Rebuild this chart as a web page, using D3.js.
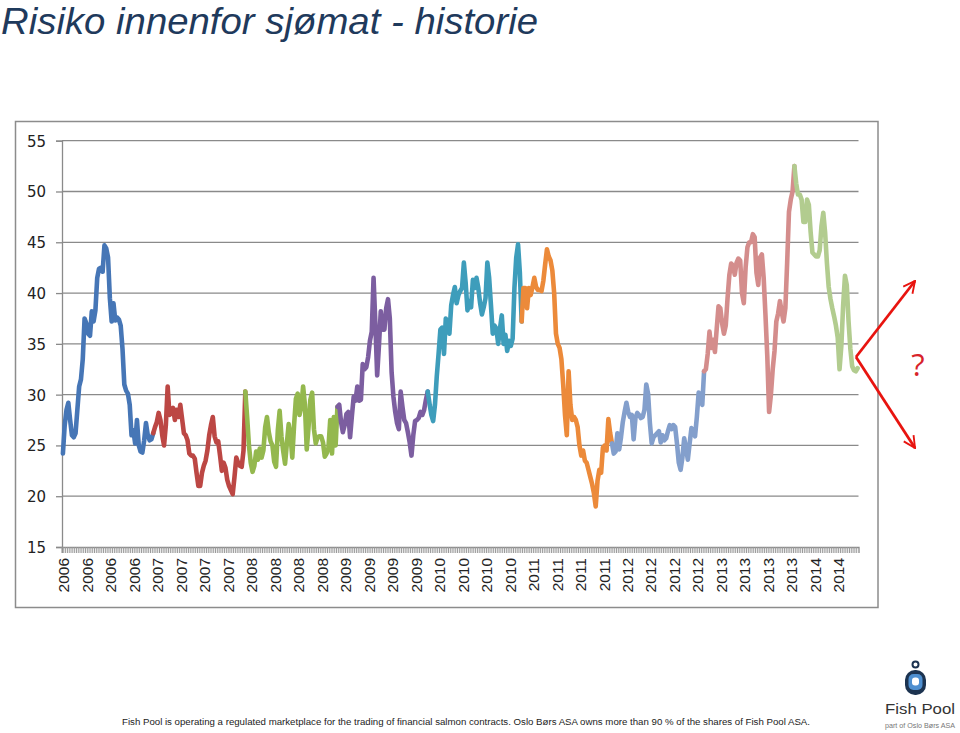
<!DOCTYPE html>
<html><head><meta charset="utf-8">
<script src="https://cdn.jsdelivr.net/npm/d3@7"></script>
<style>html,body{margin:0;padding:0;background:#fff;}svg{display:block;}</style>
</head><body>
<svg id="c" width="960" height="733"></svg>
<script>
// ---- data (weekly salmon price, NOK/kg) ----
const years = ["2006","2007","2008","2009","2010","2011","2012","2013","2014"];
const tickLabels = ["2006","2006","2006","2006","2007","2007","2007","2007","2008","2008","2008","2008",
  "2009","2009","2009","2009","2010","2010","2010","2010","2011","2011","2011","2011",
  "2012","2012","2012","2012","2013","2013","2013","2013","2014","2014"];
const yTicks = [15,20,25,30,35,40,45,50,55];
const v2006 = [24.2,27.0,28.5,29.2,27.5,26.0,25.8,26.2,28.5,30.8,31.5,33.5,37.5,37.0,36.0,35.8,38.2,37.2,38.3,41.5,
  42.4,42.5,42.1,44.7,44.4,43.5,39.5,37.2,39.0,37.3,37.6,37.4,36.8,34.5,31.0,30.4,30.1,29.0,26.0,26.5,
  25.2,27.5,25.0,24.4,24.3,25.5,27.2,26.0,25.5,25.6];
const v2007 = [26.2,26.8,27.3,28.2,27.5,26.0,25.0,27.0,30.8,28.0,28.2,28.7,27.5,28.5,27.8,29.0,27.6,26.2,26.0,25.5,
  24.2,24.0,24.0,23.7,22.3,21.0,21.0,22.3,23.0,23.5,24.5,26.0,27.0,27.8,25.9,25.3,25.4,24.0,22.5,23.3,
  22.8,21.6,21.0,20.6,20.2,21.9,23.8,23.3,23.0,22.9,24.5];
const v2008 = [30.3,27.8,25.0,23.3,22.4,23.0,24.4,23.6,24.7,23.8,24.5,26.8,27.8,26.3,25.4,25.0,23.4,22.9,26.5,28.4,
  25.9,24.4,23.2,25.2,27.1,26.0,23.8,27.0,29.6,30.1,28.0,28.8,30.8,29.0,24.6,26.8,29.5,30.2,26.6,25.2,
  25.8,25.9,25.9,25.3,23.9,24.2,24.7,27.5,24.2,27.8,25.0];
const v2009 = [28.8,29.0,27.3,26.3,27.0,28.1,28.3,25.8,27.9,29.8,29.4,30.8,29.4,29.5,33.0,32.5,32.7,33.7,35.3,36.2,
  41.5,37.0,31.9,34.9,38.2,36.4,36.4,38.5,39.4,37.5,32.2,29.8,28.3,27.2,26.6,30.3,28.8,27.5,27.2,26.3,
  25.3,24.0,26.0,27.4,27.5,27.7,28.3,28.0,28.5,29.5];
const v2010 = [30.3,29.1,28.0,27.4,29.0,31.8,34.0,36.4,36.6,34.0,37.5,37.0,36.0,38.8,39.8,40.6,39.0,39.8,40.2,40.5,
  43.0,41.0,38.3,39.2,38.6,41.3,40.5,41.5,40.5,39.0,37.9,38.6,39.5,43.0,41.5,38.8,36.0,36.8,36.5,35.0,
  36.5,37.8,35.0,35.9,34.3,35.3,34.8,35.5,40.5,43.5,44.8,42.0];
const v2011 = [37.2,40.5,40.5,38.5,40.5,39.8,40.6,41.5,40.6,40.3,40.3,40.2,41.2,42.8,44.3,43.6,43.2,42.2,40.0,36.0,
  35.0,34.6,33.5,31.0,28.0,26.0,32.3,29.0,27.5,27.8,27.5,26.8,25.0,24.0,24.5,23.5,23.3,22.6,21.9,21.2,
  20.3,19.0,21.5,22.6,22.3,24.8,25.0,24.5,27.6,26.2];
const v2012 = [25.2,24.2,24.4,26.2,24.6,25.8,27.3,28.3,29.2,28.3,27.8,28.0,25.6,27.7,28.2,28.0,27.7,27.8,28.5,31.0,
  30.1,27.2,25.2,25.8,26.0,26.2,26.4,25.3,26.0,25.5,25.7,26.4,27.0,26.6,27.0,26.8,25.2,23.3,22.6,23.8,
  25.7,24.7,23.6,25.2,26.7,26.5,25.9,27.8,30.2,29.5,29.0];
const v2013 = [32.3,32.5,34.0,36.2,34.6,35.4,34.2,36.5,38.7,38.5,37.0,36.0,36.8,39.5,41.8,42.9,42.7,41.8,43.0,43.4,
  43.2,40.0,39.0,42.5,44.5,45.0,45.0,45.8,45.5,42.0,40.8,43.5,43.8,41.5,37.8,33.8,28.3,30.0,32.5,34.3,
  37.2,38.0,39.2,38.1,37.2,38.5,43.0,48.0,49.2,50.0];
const v2014 = [52.5,50.8,49.7,49.7,49.2,47.0,47.0,49.2,48.7,46.0,44.0,43.8,43.6,43.6,44.2,46.6,47.9,46.0,43.0,40.6,
  39.4,38.5,37.7,36.8,35.6,32.5,34.8,38.8,41.7,40.8,37.2,34.5,32.8,32.4,32.3,32.6];
const seriesValues = [v2006,v2007,v2008,v2009,v2010,v2011,v2012,v2013,v2014];
const colors = ["#4676B6","#BC4744","#94B84E","#7C5EA0","#3E9DBB","#EC8A3A","#839FCC","#D48D8C","#B2CC8F"];

const titleText = "Risiko innenfor sjømat - historie";
const footerText = "Fish Pool is operating a regulated marketplace for the trading of financial salmon contracts. Oslo Børs ASA owns more than 90 % of the shares of Fish Pool ASA.";

// ---- drawing ----
const svg = d3.select("#c");
const N = d3.sum(seriesValues, s => s.length);
const weeks = d3.range(N);
const plot = {l: 62, r: 858.5, t: 140.7, b: 547};
const x = d3.scaleBand().domain(weeks).range([plot.l, plot.r]).paddingInner(0).paddingOuter(0);
const cx = i => x(i) + x.bandwidth() / 2;
const y = d3.scaleLinear().domain([15, 55]).range([plot.b, plot.t]);

// title
svg.append("text").attr("x", 1).attr("y", 34)
  .attr("font-family", "'Liberation Sans', Arial, sans-serif").attr("font-style", "italic")
  .attr("font-size", 37).attr("fill", "#1F3A5C")
  .attr("textLength", 537).attr("lengthAdjust", "spacingAndGlyphs")
  .text(titleText);

// chart frame
svg.append("rect").attr("x", 15.5).attr("y", 121.5).attr("width", 862.5).attr("height", 486)
  .attr("fill", "#fff").attr("stroke", "#8C8C8C").attr("stroke-width", 1.5);

// gridlines
svg.append("g").selectAll("line").data(yTicks.slice(1)).join("line")
  .attr("x1", plot.l).attr("x2", plot.r).attr("y1", d => y(d)).attr("y2", d => y(d))
  .attr("stroke", "#8A8A8A").attr("stroke-width", 1.3);

// y axis
const ya = svg.append("g").attr("transform", `translate(${plot.l},0)`)
  .call(d3.axisLeft(y).tickValues(yTicks).tickSize(6).tickPadding(10).tickFormat(d3.format("d")));
ya.select(".domain").attr("stroke", "#8A8A8A").attr("stroke-width", 1.3);
ya.selectAll(".tick line").attr("stroke", "#8A8A8A").attr("stroke-width", 1.3);
ya.selectAll(".tick text").attr("font-family", "'DejaVu Sans', sans-serif").attr("font-size", 15)
  .attr("fill", "#222").attr("dy", "0.36em");

// x axis (one tick per week)
const xa = svg.append("g").attr("transform", `translate(0,${plot.b})`)
  .call(d3.axisBottom(x).tickSize(6).tickFormat(""));
xa.select(".domain").attr("stroke", "#8A8A8A").attr("stroke-width", 1.3);
xa.selectAll(".tick line").attr("stroke", "#9A9A9A").attr("stroke-width", 1)
  .attr("transform", `translate(${-x.bandwidth()/2},0)`);

// x labels every 13 weeks
svg.append("g").selectAll("text").data(tickLabels).join("text")
  .attr("transform", (d, k) => `translate(${cx(k * 13) + 1},558) rotate(-90)`)
  .attr("text-anchor", "end").attr("dy", "0.36em")
  .attr("font-family", "'Liberation Sans', Arial, sans-serif").attr("font-size", 15.5)
  .attr("fill", "#222").text(d => d);

// series lines
const line = d3.line().x(d => cx(d.i)).y(d => y(d.v)).curve(d3.curveLinear);
let offset = 0;
const segs = seriesValues.map((vals, s) => {
  const pts = vals.map((v, j) => ({i: offset + j, v}));
  if (s < seriesValues.length - 1) pts.push({i: offset + vals.length, v: seriesValues[s + 1][0]});
  offset += vals.length;
  return {year: years[s], pts, color: colors[s]};
});
svg.append("g").selectAll("path").data(segs).join("path")
  .attr("d", d => line(d.pts)).attr("fill", "none").attr("stroke", d => d.color)
  .attr("stroke-width", 4.6).attr("stroke-linejoin", "round").attr("stroke-linecap", "round");

// red arrows
const defs = svg.append("defs");
defs.append("marker").attr("id", "ah").attr("viewBox", "0 0 12 12").attr("refX", 11).attr("refY", 6)
  .attr("markerWidth", 5).attr("markerHeight", 5).attr("markerUnits", "strokeWidth").attr("orient", "auto")
  .append("path").attr("d", "M1,1 L11,6 L1,11").attr("fill", "none").attr("stroke", "#E8140F").attr("stroke-width", 1.6);
const vtx = [856, 357];
[[915, 281], [915, 448]].forEach(p => {
  svg.append("line").attr("x1", vtx[0]).attr("y1", vtx[1]).attr("x2", p[0]).attr("y2", p[1])
    .attr("stroke", "#E8140F").attr("stroke-width", 2.8).attr("marker-end", "url(#ah)");
});
svg.append("text").attr("x", 918).attr("y", 376).attr("text-anchor", "middle")
  .attr("font-family", "'Open Sans', sans-serif").attr("font-size", 31).attr("fill", "#D8232A").text("?");

// footer
svg.append("text").attr("x", 122).attr("y", 725)
  .attr("font-family", "'Liberation Sans', Arial, sans-serif").attr("font-size", 9.2).attr("fill", "#222")
  .attr("textLength", 688).attr("lengthAdjust", "spacingAndGlyphs").text(footerText);

// logo
const lg = svg.append("g");
lg.append("circle").attr("cx", 915.5).attr("cy", 664.5).attr("r", 3).attr("fill", "none").attr("stroke", "#1C3350").attr("stroke-width", 2);
lg.append("rect").attr("x", 905).attr("y", 670).attr("width", 21).attr("height", 25).attr("rx", 10).attr("fill", "#1C3350");
lg.append("rect").attr("x", 908.5).attr("y", 674).attr("width", 14).attr("height", 16).attr("rx", 5).attr("fill", "#4E8FD0");
lg.append("rect").attr("x", 912).attr("y", 677.5).attr("width", 7).attr("height", 8).attr("rx", 3).attr("fill", "#fff");
lg.append("text").attr("x", 920).attr("y", 714).attr("text-anchor", "middle")
  .attr("font-family", "'Liberation Sans', Arial, sans-serif").attr("font-size", 15).attr("fill", "#333")
  .attr("textLength", 70).attr("lengthAdjust", "spacingAndGlyphs").text("Fish Pool");
lg.append("text").attr("x", 920).attr("y", 728).attr("text-anchor", "middle")
  .attr("font-family", "'Liberation Sans', Arial, sans-serif").attr("font-size", 6.5).attr("fill", "#777")
  .attr("textLength", 70).attr("lengthAdjust", "spacingAndGlyphs").text("part of Oslo Børs ASA");
</script>
</body></html>
